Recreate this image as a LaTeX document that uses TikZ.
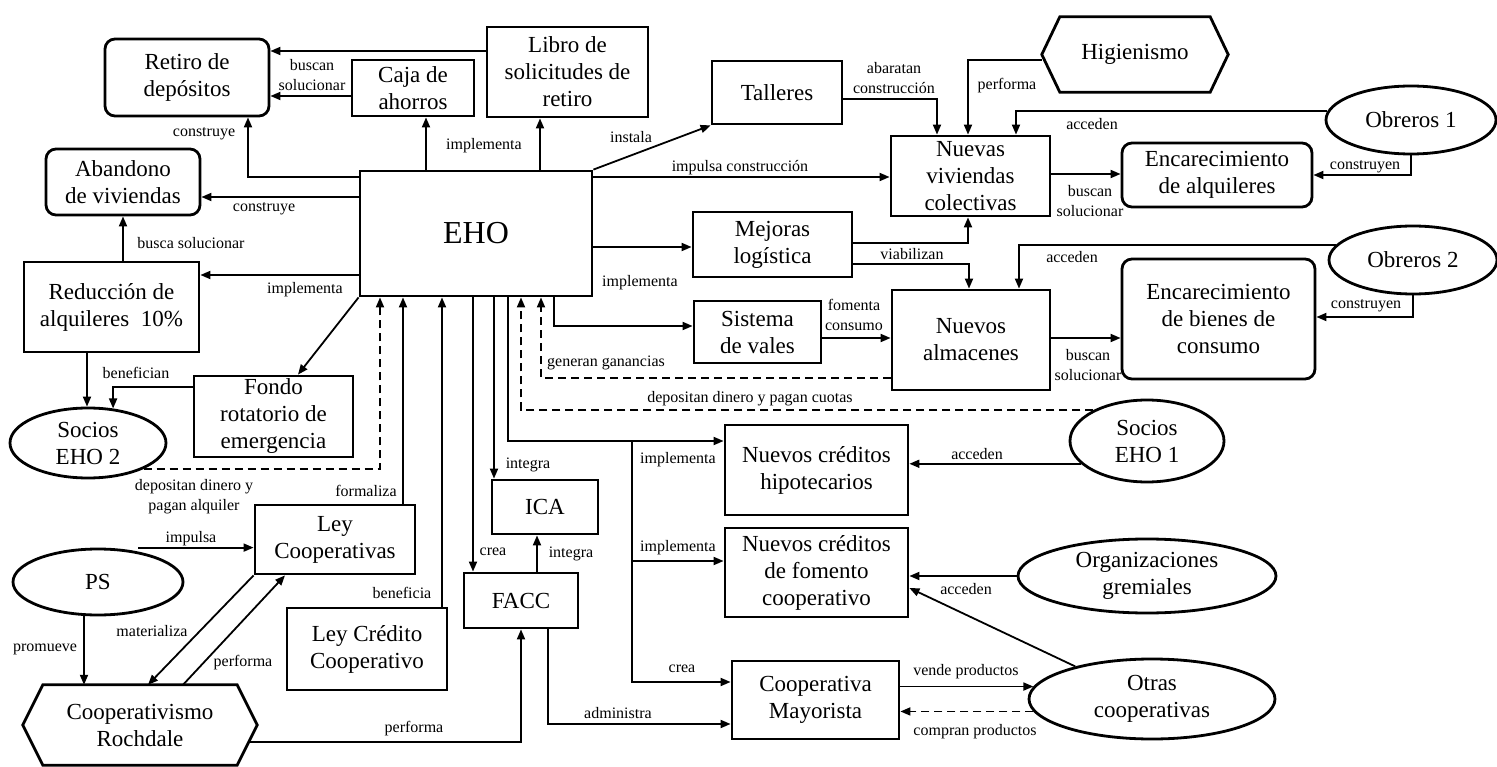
\documentclass[tikz,border=0pt]{standalone}
\usepackage{fontspec}
\setmainfont{Liberation Serif}
\usetikzlibrary{arrows.meta,shapes.geometric,calc}
\begin{document}
\begin{tikzpicture}[x=1pt,y=-1pt,
  box/.style={draw,line width=2.8pt,rectangle,align=center,inner sep=0pt,font=\fontsize{23}{27}\selectfont},
  rbox/.style={box,rounded corners=10pt},
  ell/.style={draw,line width=2.8pt,ellipse,align=center,inner sep=0pt,font=\fontsize{23}{27}\selectfont},
  hexn/.style={rectangle,align=center,inner sep=0pt,font=\fontsize{23}{27}\selectfont},
  lbl/.style={inner sep=0pt,align=center,font=\fontsize{16}{20}\selectfont},
  conn/.style={line width=1.8pt,-{Triangle[length=10pt,width=8pt]}},
  dconn/.style={conn,dash pattern=on 8pt off 5pt},
  sz/.style 2 args={minimum width=#1pt,minimum height=#2pt},
]
\useasboundingbox (0,0) rectangle (1497,767);

% nodes
\node[rbox,sz={164}{77}] (ret) at (187,77.5) {Retiro de\\depósitos};
\node[box,sz={122}{56}] (caja) at (413,88) {Caja de\\ahorros};
\node[box,sz={161}{90}] (libro) at (567.5,72) {Libro de\\solicitudes de\\retiro};
\node[rbox,sz={154}{66}] (aband) at (123,182) {Abandono\\de viviendas};
\node[box,sz={232}{125},font=\fontsize{32}{38}\selectfont] (eho) at (476,233.5) {EHO};
\node[box,sz={130}{63}] (tall) at (777,92.5) {Talleres};
\node[hexn,sz={186}{75}] (hig) at (1135,54.5) {Higienismo};
\node[box,sz={159}{80}] (nvc) at (970.5,176) {Nuevas\\viviendas\\colectivas};
\node[ell,sz={170}{68}] (ob1) at (1411,120) {Obreros 1};
\node[rbox,sz={190}{64}] (enca) at (1217,175) {Encarecimiento\\de alquileres};
\node[box,sz={159}{65}] (mej) at (772.5,244.5) {Mejoras\\logística};
\node[ell,sz={168}{68}] (ob2) at (1413,260) {Obreros 2};
\node[box,sz={158}{100}] (alm) at (971,340) {Nuevos\\almacenes};
\node[rbox,sz={193}{120}] (encb) at (1218.5,319) {Encarecimiento\\de bienes de\\consumo};
\node[box,sz={127}{62}] (vales) at (757.5,332) {Sistema\\de vales};
\node[box,sz={175}{90}] (red) at (111.5,307) {Reducción de\\alquileres~~10\%};
\node[box,sz={159}{81}] (fondo) at (273.5,416.5) {Fondo\\rotatorio de\\emergencia};
\node[ell,sz={156}{70}] (s2) at (88,443) {Socios\\EHO 2};
\node[ell,sz={154}{82}] (s1) at (1147,441) {Socios\\EHO 1};
\node[box,sz={183}{90}] (hip) at (816.5,470) {Nuevos créditos\\hipotecarios};
\node[box,sz={106}{54}] (ica) at (545,507) {ICA};
\node[box,sz={114}{55}] (facc) at (521,600.5) {FACC};
\node[box,sz={183}{89}] (fom) at (816.5,572.5) {Nuevos créditos\\de fomento\\cooperativo};
\node[box,sz={167}{78}] (may) at (815.5,700) {Cooperativa\\Mayorista};
\node[ell,sz={258}{74}] (org) at (1147,576) {Organizaciones\\gremiales};
\node[ell,sz={246}{80}] (otras) at (1152,699) {Otras\\cooperativas};
\node[box,sz={160}{69}] (leyc) at (335,539.5) {Ley\\Cooperativas};
\node[box,sz={160}{82}] (leycr) at (367,649) {Ley Crédito\\Cooperativo};
\node[ell,sz={170}{66}] (ps) at (98,582) {PS};
\node[hexn,sz={234}{80}] (coop) at (140,725) {Cooperativismo\\Rochdale};

\foreach \n/\d in {hig/18,coop/20}
  \draw[line width=2.8pt] (\n.west) -- ($(\n.north west)+(\d,0)$) -- ($(\n.north east)+(-\d,0)$) -- (\n.east) -- ($(\n.south east)+(-\d,0)$) -- ($(\n.south west)+(\d,0)$) -- cycle;

% connectors
\draw[conn] (libro.west |- 0,51) -- (ret.east |- 0,51);
\draw[conn] (caja.west |- 0,96) -- (ret.east |- 0,96);
\draw[conn] (eho.west |- 0,177) -| (ret.south -| 248,0);
\draw[conn] (eho.north -| 426,0) -- (caja.south -| 426,0);
\draw[conn] (eho.north -| 540,0) -- (libro.south -| 540,0);
\draw[conn] (eho.west |- 0,197) -- (aband.east |- 0,197);
\draw[conn] (red.north -| aband.south) -- (aband.south);
\draw[conn] (eho.north east) -- (tall.south west);
\draw[conn] (tall.east |- 0,99) -| (nvc.north -| 937,0);
\draw[conn] (hig.west |- 0,60) -| (nvc.north -| 968,0);
\draw[conn] (eho.east |- 0,177) -- (nvc.west |- 0,177);
\draw[conn] (ob1.174) -| (nvc.north -| 1016,0);
\draw[conn] (nvc.east |- 0,174) -- (enca.west |- 0,174);
\draw[conn] (ob1.south) |- (enca.east);
\draw[conn] (eho.east |- 0,247) -- (mej.west |- 0,247);
\draw[conn] (mej.east |- 0,243) -| (nvc.south -| 968,0);
\draw[conn] (mej.east |- 0,264) -| (alm.north -| 969,0);
\draw[conn] (ob2.169) -| (alm.north -| 1019,0);
\draw[conn] (alm.east |- 0,338) -- (encb.west |- 0,338);
\draw[conn] (ob2.south) |- (encb.east |- 0,317);
\draw[conn] (eho.south -| 554,0) |- (vales.west |- 0,326);
\draw[conn] (vales.east |- 0,338) -- (alm.west |- 0,338);
\draw[dconn] (alm.west |- 0,378) -| (eho.south -| 541,0);
\draw[dconn] (s1.150) -| (eho.south -| 521,0);
\draw[conn] (eho.south -| 508,0) |- (hip.west |- 0,441);
\coordinate (br) at (632,441);
\draw[conn] (br) |- (fom.west |- 0,561);
\draw[conn] (br) |- (may.west |- 0,682);
\draw[conn] (eho.south -| 494,0) -- (ica.north -| 494,0);
\draw[conn] (eho.south -| 473,0) -- (facc.north -| 473,0);
\draw[conn] (facc.north -| 537,0) -- (ica.south -| 537,0);
\draw[conn] (facc.south -| 548,0) |- (may.west |- 0,724);
\draw[conn] ($(coop.east)+(-8.5,17)$) -| (facc.south);
\draw[conn] (s1.199) -- (hip.east |- s1.199);
\draw[conn] (org.west) -- (fom.east |- org.west);
\draw[conn] (otras.157) -- (fom.east |- 0,588);
\draw[conn] (may.east |- otras.174) -- (otras.174);
\draw[dconn] (otras.186) -- (may.east |- otras.186);
\draw[conn] (eho.west |- 0,275) -- (red.east |- 0,275);
\draw[conn] (eho.south west) -- (fondo.north -| 298,0);
\draw[conn] (red.south -| 87,0) -- (s2.north -| 87,0);
\draw[conn] (fondo.west |- 0,387) -| (s2.54);
\draw[dconn] (s2.-25) -| (eho.south -| 380,0);
\draw[conn] (leyc.north -| 403,0) -- (eho.south -| 403,0);
\draw[conn] (leycr.north -| 442,0) -- (eho.south -| 442,0);
\draw[conn] ($(ps.north)+(40,0)$) -- (leyc.west |- ps.north);
\draw[conn] (ps.south -| 84,0) -- (coop.north -| 84,0);
\draw[conn] (leyc.south west) -- (coop.north -| 148,0);
\draw[conn] (coop.north -| 183,0) -- (leyc.south -| 285,0);

% labels
\node[lbl] (l1) at (312,75) {buscan\\solucionar};
\node[lbl] (l2) at (204,134) {construye};
\node[lbl] (l3) at (484,146) {implementa};
\node[lbl] (l4) at (264,209) {construye};
\node[lbl] (l5) at (191,243) {busca solucionar};
\node[lbl] (l6) at (631,137) {instala};
\node[lbl] (l7) at (740,168) {impulsa construcción};
\node[lbl] (l8) at (894,78) {abaratan\\construcción};
\node[lbl] (l9) at (1007,86) {performa};
\node[lbl] (l10) at (1092,124) {acceden};
\node[lbl] (l11) at (1090,201) {buscan\\solucionar};
\node[lbl] (l12) at (1365,167) {construyen};
\node[lbl] (l13) at (912,254) {viabilizan};
\node[lbl] (l14) at (1072,257) {acceden};
\node[lbl] (l15) at (640,283) {implementa};
\node[lbl] (l16) at (854,315) {fomenta\\consumo};
\node[lbl] (l17) at (1088,365) {buscan\\solucionar};
\node[lbl] (l18) at (1366,306) {construyen};
\node[lbl] (l19) at (606,363) {generan ganancias};
\node[lbl] (l20) at (750,399) {depositan dinero y pagan cuotas};
\node[lbl] (l21) at (678,460) {implementa};
\node[lbl] (l22) at (977,454) {acceden};
\node[lbl] (l23) at (528,465) {integra};
\node[lbl] (l24) at (678,548) {implementa};
\node[lbl] (l25) at (966,589) {acceden};
\node[lbl] (l26) at (493,552) {crea};
\node[lbl] (l27) at (571,554) {integra};
\node[lbl] (l28) at (682,669) {crea};
\node[lbl] (l29) at (618,713) {administra};
\node[lbl] (l30) at (966,672) {vende productos};
\node[lbl] (l31) at (975,732) {compran productos};
\node[lbl] (l32) at (305,290) {implementa};
\node[lbl] (l33) at (136,373) {benefician};
\node[lbl] (l34) at (194,497) {depositan dinero y\\pagan alquiler};
\node[lbl] (l35) at (366,491) {formaliza};
\node[lbl] (l36) at (191,539) {impulsa};
\node[lbl] (l37) at (45,649) {promueve};
\node[lbl] (l38) at (152,631) {materializa};
\node[lbl] (l39) at (243,663) {performa};
\node[lbl] (l40) at (402,593) {beneficia};
\node[lbl] (l41) at (414,729) {performa};
\end{tikzpicture}
\end{document}
